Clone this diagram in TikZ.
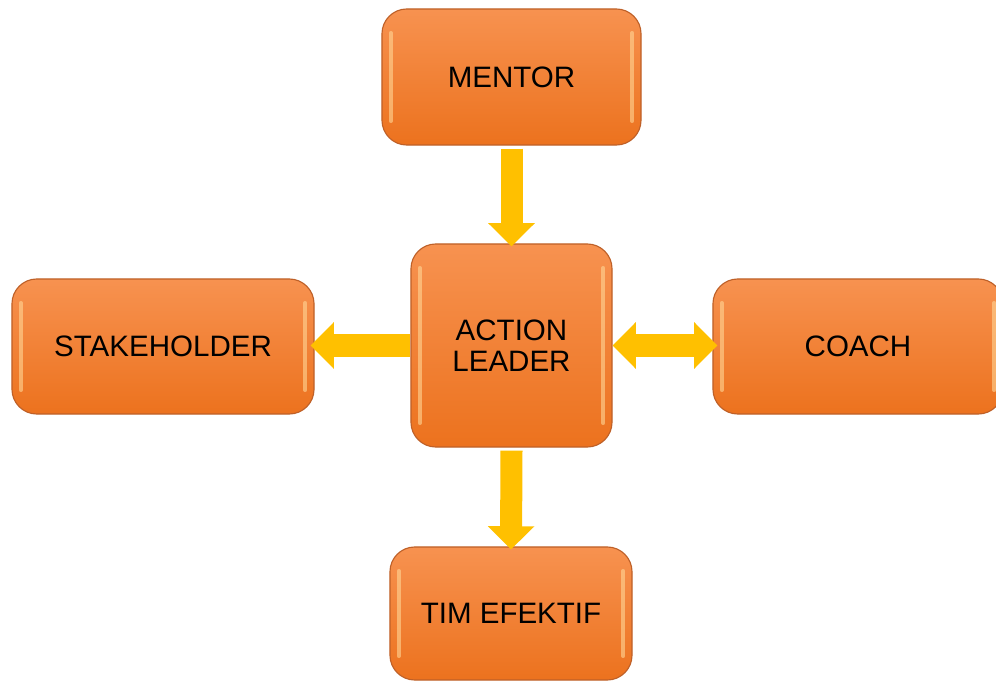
\documentclass[tikz,border=0pt]{standalone}
\usepackage{fontspec}
\setmainfont{Liberation Sans}
\usetikzlibrary{arrows.meta}
\definecolor{boxtop}{RGB}{247,146,80}
\definecolor{boxbot}{RGB}{236,114,30}
\definecolor{boxrim}{RGB}{190,96,40}
\definecolor{boxglow}{RGB}{255,214,150}
\definecolor{flowyel}{RGB}{255,192,0}
\tikzset{
  block/.style={rectangle, rounded corners=0.62cm, draw=boxrim, line width=0.8pt,
    top color=boxtop, bottom color=boxbot, align=center,
    font=\fontsize{21}{22}\selectfont, text=black,
    path picture={
      \draw[boxglow, opacity=0.6, line width=0.1cm, line cap=round]
        ([shift={(0.22cm,0.6cm)}]path picture bounding box.south west)
        -- ([shift={(0.22cm,-0.6cm)}]path picture bounding box.north west);
      \draw[boxglow, opacity=0.6, line width=0.1cm, line cap=round]
        ([shift={(-0.22cm,0.6cm)}]path picture bounding box.south east)
        -- ([shift={(-0.22cm,-0.6cm)}]path picture bounding box.north east);
    }},
  flow/.style={draw=flowyel, line width=0.55cm,
    -{Triangle[width=1.13cm, length=0.58cm]}},
  flow2/.style={draw=flowyel, line width=0.55cm,
    {Triangle[width=1.13cm, length=0.58cm]}-{Triangle[width=1.13cm, length=0.58cm]}}
}
\begin{document}
\begin{tikzpicture}[x=0.025cm, y=0.025cm]
	\useasboundingbox (0,0) rectangle (996,680);
	\node[block, minimum width=6.475cm, minimum height=3.4cm] (mentor) at (511.5, 603) {MENTOR};
	\node[block, minimum width=5.025cm, minimum height=5.075cm] (action) at (511.5, 334.5) {ACTION\\LEADER};
	\node[block, minimum width=7.55cm, minimum height=3.375cm] (stake) at (163, 333.5) {STAKEHOLDER};
	\node[block, minimum width=7.25cm, minimum height=3.375cm] (coach) at (858, 333.5) {COACH};
	\node[block, minimum width=6.05cm, minimum height=3.325cm] (tim) at (511, 66.5) {TIM EFEKTIF};
	 \draw[flow] ([yshift=-0.075cm]mentor.south) -- ([yshift=-0.075cm]action.north);
	 \draw[flow] (action.west) -- ([xshift=-0.1cm]stake.east |- action.west);
	 \draw[flow2] (action.east) -- ([xshift=0.125cm]coach.west |- action.east);
	 \draw[flow] ([yshift=-0.075cm]action.south) -- ([yshift=-0.075cm]tim.north);
\end{tikzpicture}
\end{document}
